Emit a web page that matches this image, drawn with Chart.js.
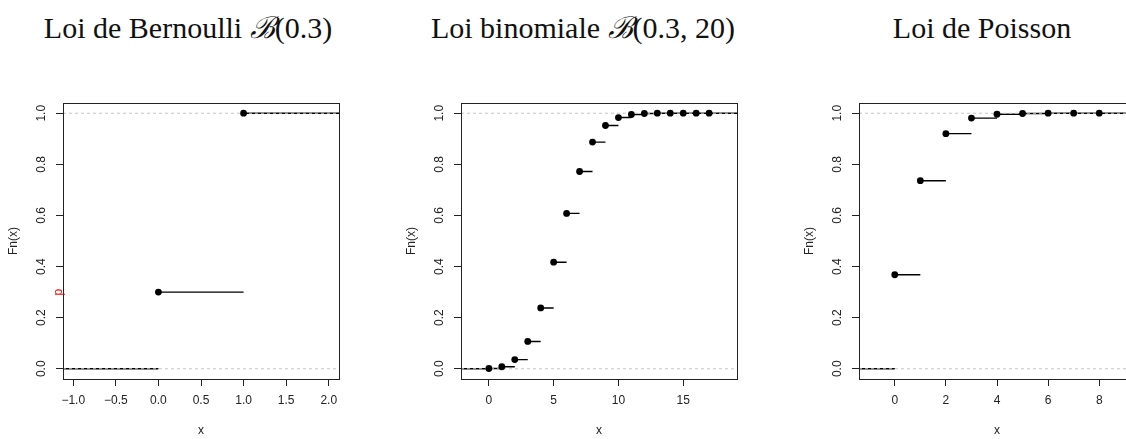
<!DOCTYPE html>
<html>
<head>
<meta charset="utf-8">
<script src="https://cdn.jsdelivr.net/npm/chart.js@4"></script>
<style>
  html, body { margin: 0; padding: 0; background: #fff; }
  body { width: 1126px; height: 439px; overflow: hidden; position: relative; }
  canvas { position: absolute; top: 0; }
  .title {
    position: absolute; top: 13px; width: 400px; text-align: center;
    font-family: "Liberation Serif", "DejaVu Serif", serif;
    font-size: 30px; line-height: 30px; color: #111; white-space: nowrap;
  }
</style>
</head>
<body>
<div class="title" style="left:-12px">Loi de Bernoulli <i>ℬ</i>(0.3)</div>
<div class="title" style="left:383px">Loi binomiale <i>ℬ</i>(0.3, 20)</div>
<div class="title" style="left:782px">Loi de Poisson</div>
<canvas id="c1" width="398" height="439" style="left:0"></canvas>
<canvas id="c2" width="398" height="439" style="left:398px"></canvas>
<canvas id="c3" width="398" height="439" style="left:796px"></canvas>
<script>
// y axis, shared by the three panels
var yTicks = [0, 0.2, 0.4, 0.6, 0.8, 1];
var yRange = [-0.04, 1.04];

// Bernoulli(0.3)
var bernX = [0, 1];
var bernF = [0.3, 1];
var bernTicks = [-1, -0.5, 0, 0.5, 1, 1.5, 2];
var bernRange = [-1.12, 2.12];

// binomiale B(0.3, 20)
var binomX = [0, 1, 2, 3, 4, 5, 6, 7, 8, 9, 10, 11, 12, 13, 14, 15, 16, 17];
var binomF = [0.001, 0.008, 0.036, 0.107, 0.238, 0.417, 0.608, 0.772, 0.887,
              0.952, 0.983, 0.995, 0.999, 1, 1, 1, 1, 1];
var binomTicks = [0, 5, 10, 15];
var binomRange = [-2.15, 19.15];

// Poisson
var poisX = [0, 1, 2, 3, 4, 5, 6, 7, 8];
var poisF = [0.368, 0.736, 0.920, 0.981, 0.996, 0.999, 1, 1, 1];
var poisTicks = [0, 2, 4, 6, 8];
var poisRange = [-1.4, 9.4];

var INK = '#222';
var AXIS_FONT = '12px "Liberation Sans", Arial, sans-serif';

function fmtTick(v, dec) {
  var s = v.toFixed(dec);
  return s.charAt(0) === '-' ? '\u2212' + s.slice(1) : s;
}

var frame = {
  id: 'frame',
  afterDraw: function(chart, args, opts) {
    var ctx = chart.ctx, a = chart.chartArea;
    var xs = chart.scales.x, ys = chart.scales.y;
    ctx.save();
    ctx.strokeStyle = INK;
    ctx.lineWidth = 1;
    ctx.strokeRect(Math.round(a.left) + 0.5, Math.round(a.top) + 0.5,
                   Math.round(a.right - a.left), Math.round(a.bottom - a.top));
    ctx.fillStyle = INK;
    ctx.font = AXIS_FONT;
    ctx.textAlign = 'center';
    ctx.textBaseline = 'middle';
    xs.ticks.forEach(function(t) {
      ctx.fillText(fmtTick(t.value, opts.dec), xs.getPixelForValue(t.value), 401);
    });
    ys.ticks.forEach(function(t) {
      ctx.save();
      ctx.translate(42, ys.getPixelForValue(t.value));
      ctx.rotate(-Math.PI / 2);
      ctx.fillText(t.value.toFixed(1), 0, 0);
      ctx.restore();
    });
    ctx.fillText('x', (a.left + a.right) / 2, 431);
    ctx.save();
    ctx.translate(14, (a.top + a.bottom) / 2);
    ctx.rotate(-Math.PI / 2);
    ctx.fillText('Fn(x)', 0, 0);
    ctx.restore();
    if (opts.mark != null) {
      ctx.save();
      ctx.fillStyle = '#ff0000';
      ctx.translate(59, ys.getPixelForValue(opts.mark));
      ctx.rotate(-Math.PI / 2);
      ctx.fillText('p', 0, 0);
      ctx.restore();
    }
    ctx.restore();
  }
};

function makePanel(id, xs, fs, ticks, range, dec, mark) {
  // horizontal steps, no verticals
  var steps = [{x: range[0], y: 0}, {x: xs[0], y: 0}, {x: xs[0], y: null}];
  for (var i = 0; i < xs.length; i++) {
    var end = i < xs.length - 1 ? xs[i + 1] : range[1];
    steps.push({x: xs[i], y: fs[i]}, {x: end, y: fs[i]}, {x: end, y: null});
  }
  var pts = xs.map(function(x, i) { return {x: x, y: fs[i]}; });
  var dashed = {
    data: null, showLine: true, pointRadius: 0, borderColor: '#c4c4c4',
    borderWidth: 1, borderDash: [3, 3], spanGaps: false
  };
  new Chart(document.getElementById(id), {
    type: 'scatter',
    data: {
      datasets: [
        {data: pts, showLine: false, pointRadius: 3.4, pointHoverRadius: 3.4,
         backgroundColor: '#000', borderColor: '#000', borderWidth: 0},
        Object.assign({}, dashed, {data: [{x: range[0], y: 1}, {x: range[1], y: 1}]}),
        Object.assign({}, dashed, {data: [{x: range[0], y: 0}, {x: range[1], y: 0}]}),
        {data: steps, showLine: true, pointRadius: 0, borderColor: '#000',
         borderWidth: 1.4, spanGaps: false}
      ]
    },
    options: {
      responsive: false,
      animation: false,
      events: [],
      layout: {padding: {top: 103, right: 59, left: 0, bottom: 0}},
      plugins: {legend: {display: false}, tooltip: {enabled: false}, frame: {dec: dec, mark: mark}},
      scales: {
        x: {
          type: 'linear', min: range[0], max: range[1],
          afterBuildTicks: function(s) { s.ticks = ticks.map(function(v) { return {value: v}; }); },
          afterFit: function(s) { s.height = 60; },
          ticks: {display: false},
          border: {display: false},
          grid: {drawOnChartArea: false, drawTicks: true, tickLength: 7, color: INK, lineWidth: 1}
        },
        y: {
          type: 'linear', min: yRange[0], max: yRange[1],
          afterBuildTicks: function(s) { s.ticks = yTicks.map(function(v) { return {value: v}; }); },
          afterFit: function(s) { s.width = 63; },
          ticks: {display: false},
          border: {display: false},
          grid: {drawOnChartArea: false, drawTicks: true, tickLength: 7, color: INK, lineWidth: 1}
        }
      }
    },
    plugins: [frame]
  });
}

makePanel('c1', bernX, bernF, bernTicks, bernRange, 1, bernF[0]);
makePanel('c2', binomX, binomF, binomTicks, binomRange, 0, null);
makePanel('c3', poisX, poisF, poisTicks, poisRange, 0, null);
</script>
</body>
</html>
